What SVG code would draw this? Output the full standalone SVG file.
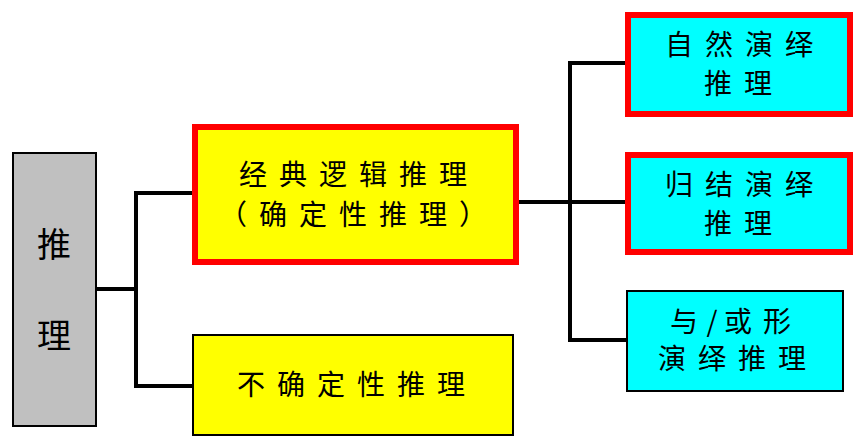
<svg xmlns="http://www.w3.org/2000/svg" width="865" height="447" viewBox="0 0 865 447">
<style>
text{font-family:"Noto Sans CJK SC","Liberation Sans",sans-serif;font-size:28px;fill:#000;text-anchor:middle;dominant-baseline:central;letter-spacing:12px}
.big{font-size:34px;letter-spacing:0}
.ns{letter-spacing:0}
.red{stroke:#FF0000;stroke-width:6}
.blk{stroke:#000;stroke-width:2}
.conn{fill:none;stroke:#000;stroke-width:4}
</style>
<rect width="865" height="447" fill="#fff"/>
<g id="connectors">
<polyline class="conn" points="96,289 136,289"/>
<polyline class="conn" points="193,193 136,193 136,386 193,386"/>
<polyline class="conn" points="519,202 570,202"/>
<polyline class="conn" points="625,63 570,63 570,340 627,340"/>
<polyline class="conn" points="570,202 625,202"/>
</g>
<g id="root">
<rect x="13" y="153" width="83" height="273" fill="#C0C0C0" class="blk"/>
<text class="big" x="54" y="242">推</text>
<text class="big" x="54" y="333">理</text>
</g>
<g id="classic">
<rect x="195" y="127" width="321" height="135" fill="#FFFF00" class="red"/>
<text x="359" y="173">经典逻辑推理</text>
<text x="359" y="213">（确定性推理）</text>
</g>
<g id="uncertain">
<rect x="193" y="335" width="320" height="100" fill="#FFFF00" class="blk"/>
<text x="357" y="383">不确定性推理</text>
</g>
<g id="natural">
<rect x="628" y="15" width="222" height="99" fill="#00FFFF" class="red"/>
<text x="745" y="43">自然演绎</text>
<text x="744" y="82">推理</text>
</g>
<g id="resolution">
<rect x="628" y="155" width="222" height="97" fill="#00FFFF" class="red"/>
<text x="745" y="183">归结演绎</text>
<text x="744" y="222">推理</text>
</g>
<g id="andor">
<rect x="627" y="291" width="216" height="100" fill="#00FFFF" class="blk"/>
<text class="ns" y="320"><tspan x="684">与</tspan><tspan x="712">/</tspan><tspan x="738">或</tspan><tspan x="777">形</tspan></text>
<text x="738" y="357">演绎推理</text>
</g>
</svg>
